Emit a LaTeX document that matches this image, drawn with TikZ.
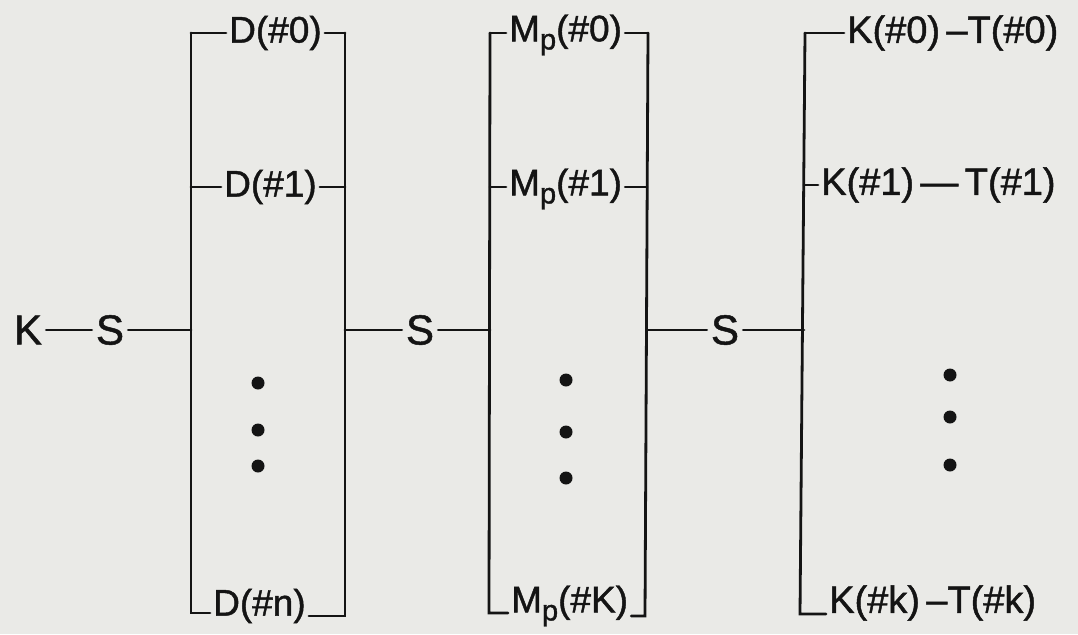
\documentclass[tikz,border=0pt]{standalone}
\usepackage{fontspec}
\setmainfont{Liberation Sans}
\newfontfamily\hand{Liberation Sans}[FakeBold=1.2]
\definecolor{paper}{RGB}{234,234,231}
\definecolor{ink}{RGB}{20,20,20}
\newcommand{\lbl}{\hand\fontsize{37}{40}\selectfont}
\newcommand{\lblw}{\hand\fontsize{38}{40}\selectfont}
\newcommand{\Mp}{M\raisebox{-0.22em}{\fontsize{29}{30}\selectfont p}}
\tikzset{
  wire/.style={draw=ink, line width=2.8pt, line cap=round, line join=miter},
  lab/.style={font=\lbl, text=ink, inner sep=3pt, anchor=west},
  labw/.style={font=\lblw, text=ink, inner sep=3pt, anchor=west},
  big/.style={font=\hand\fontsize{42}{46}\selectfont, text=ink, inner sep=4pt},
  dotm/.style={fill=ink, circle, inner sep=0pt, minimum size=13pt},
}
\begin{document}
\begin{tikzpicture}[x=1pt,y=-1pt]
\fill[paper] (0,0) rectangle (1078,634);
\useasboundingbox (0,0) rectangle (1078,634);

% left chain
\node[big] (K) at (28,330) {K};
\node[big] (S1) at (110,330) {S};
\coordinate (b1m) at (191,330);
\draw[wire] (K) -- (S1);
\draw[wire] (S1) -- (b1m);

% bracket 1
\coordinate (b1tl) at (191,33);
\coordinate (b1bl) at (191,613);
\coordinate (b1tr) at (345,33);
\coordinate (b1br) at (345,616);
\coordinate (b1r1) at (345,187);
\coordinate (b1mr) at (345,330);
\coordinate (b1l1) at (191,187);
\node[lab] (D0) at (226,33) {D(\#0)};
\node[lab] (D1) at (221,187) {D(\#1)};
\node[lab] (Dn) at (210,606) {D(\#n)};
\draw[wire] (b1tl) -- (D0.west);
\draw[wire] (D0.east) -- (b1tr);
\draw[wire] (b1l1) -- (D1.west);
\draw[wire] (D1.east) -- (b1r1);
\draw[wire] (b1tl) -- (b1bl) -- (b1bl -| Dn.west);
\draw[wire] (b1tr) -- (b1br) -- (b1br -| Dn.east);
\node[dotm] (d11) at (258,383) {};
\node[dotm] (d12) at (258,430) {};
\node[dotm] (d13) at (258,466) {};

% middle S
\node[big] (S2) at (420,330) {S};
\coordinate (b2m) at (490,330);
\draw[wire] (b1mr) -- (S2);
\draw[wire] (S2) -- (b2m);

% bracket 2
\coordinate (b2tl) at (490,33);
\coordinate (b2bl) at (489,613);
\coordinate (b2tr) at (648,33);
\coordinate (b2br) at (645,616);
\coordinate (b2r1) at (647,187);
\coordinate (b2mr) at (647,330);
\coordinate (b2l1) at (490,187);
\node[lab] (M0) at (506,35) {\Mp(\#0)};
\node[lab] (M1) at (506,189) {\Mp(\#1)};
\node[lab] (MK) at (508,606) {\Mp(\#K)};
\draw[wire] (b2tl) -- (M0.west |- b2tl);
\draw[wire] (M0.east |- b2tr) -- (b2tr);
\draw[wire] (b2l1) -- (M1.west |- b2l1);
\draw[wire] (M1.east |- b2r1) -- (b2r1);
\draw[wire] (b2tl) -- (b2bl) -- (b2bl -| MK.west);
\draw[wire] (b2tr) -- (b2br) -- (b2br -| MK.east);
\node[dotm] (d21) at (566,380) {};
\node[dotm] (d22) at (566,432) {};
\node[dotm] (d23) at (566,478) {};

% right S
\node[big] (S3) at (725,330) {S};
\coordinate (b3m) at (804,330);
\draw[wire] (b2mr) -- (S3);
\draw[wire] (S3) -- (b3m);

% bracket 3
\coordinate (b3t) at (805,33);
\coordinate (b3b) at (800,614);
\coordinate (b3l1) at (804,185);
\node[labw] (KT0) at (844,33) {K(\#0)\,–T(\#0)};
\node[labw] (KT1) at (818,185) {K(\#1)\,—\,T(\#1)};
\node[labw] (KTk) at (826,603) {K(\#k)\,–T(\#k)};
\draw[wire] (b3t) -- (KT0.west);
\draw[wire] (b3l1) -- (KT1.west);
\draw[wire] (b3t) -- (b3b) -- (b3b -| KTk.west);
\node[dotm] (d31) at (950,375) {};
\node[dotm] (d32) at (950,417) {};
\node[dotm] (d33) at (950,465) {};
\end{tikzpicture}
\end{document}
